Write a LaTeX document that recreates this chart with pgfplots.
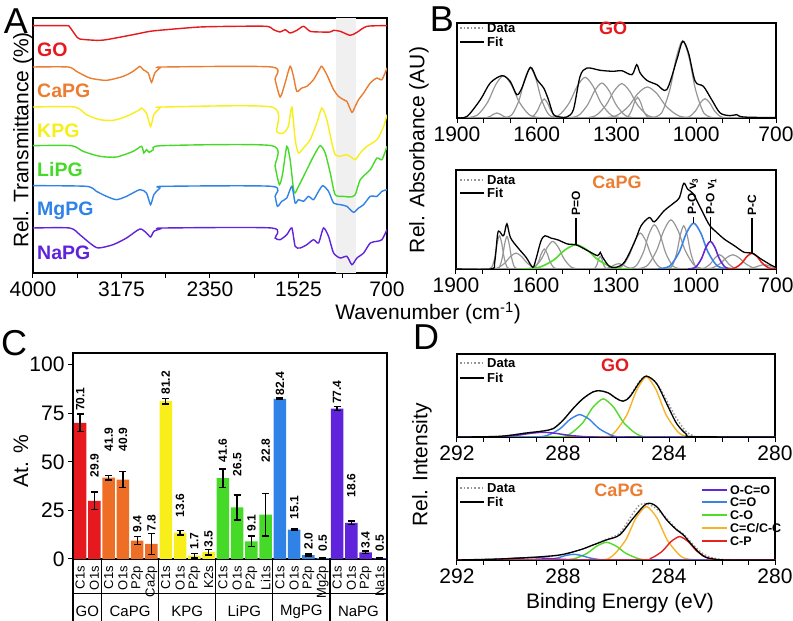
\documentclass[border=0pt]{standalone}
\usepackage{pgfplots}
\pgfplotsset{compat=1.18}
\usepackage{fontspec}
\setmainfont{Liberation Sans}
\definecolor{cGO}{HTML}{E6191E}
\definecolor{cCa}{HTML}{EE6E26}
\definecolor{cCaT}{HTML}{EB7D32}
\definecolor{cK}{HTML}{F7EE1A}
\definecolor{cLi}{HTML}{46DA28}
\definecolor{cMg}{HTML}{2F82E6}
\definecolor{cNa}{HTML}{5F23DC}
\definecolor{band}{HTML}{F0F0F0}
\definecolor{comp}{HTML}{969696}
\definecolor{dP}{HTML}{6428D2}
\definecolor{dB}{HTML}{3C82E6}
\definecolor{dG}{HTML}{50DC28}
\definecolor{dO}{HTML}{F5B428}
\definecolor{dR}{HTML}{E6231E}
\pgfplotsset{
 myax/.style={scale only axis, anchor=south west, axis line style={line width=1.3pt},
   tick style={black, line width=1pt}, tick align=outside, major tick length=5pt,
   tick label style={font=\fontsize{21}{21}\selectfont},
   /pgf/number format/assume math mode=true, ytick=\empty, xtick pos=left},
 ln/.style={line width=1.4pt, smooth, tension=0.4},
 cp/.style={comp, line width=1.2pt, smooth, tension=0.5},
 fit/.style={black, line width=1.3pt, smooth, tension=0.5},
 dat/.style={comp, line width=1.5pt, dotted, smooth, tension=0.5},
 bb/.style={ybar, bar width=12.5pt, bar shift=0pt, draw=none, fill=#1,
    error bars/y dir=both, error bars/y explicit,
    error bars/error bar style={line width=1.3pt, black},
    error bars/error mark options={rotate=90, line width=1.3pt, black, mark size=3.5pt}},
}
\newcommand{\fs}[1]{\fontsize{#1}{#1}\selectfont}
\tikzset{vl/.style={rotate=90, anchor=west, inner sep=0.5pt, font=\bfseries\fs{12}},
  gl/.style={font=\fs{15}}}
\begin{document}
\begin{tikzpicture}
\useasboundingbox (0pt,0pt) rectangle (793pt,621pt);
% ---------------- Panel A
\begin{axis}[myax, at={(33pt,348pt)}, width=354pt, height=255pt,
  xmin=700, xmax=4000, x dir=reverse, ymin=0, ymax=765,
  xtick={700,1112.5,1525,1937.5,2350,2762.5,3175,3587.5,4000},
  xticklabels={700,,1525,,2350,,3175,,4000}]
\fill[band] (axis cs:1173,0) rectangle (axis cs:987,765);
\addplot[ln, cGO] coordinates {(4000,742) (3984,742) (3690,742) (3658,738) (3600,712) (3564,702) (3409,698) (3315,700) (3066,715) (2910,725) (2755,730) (2443,738) (2132,740) (1821,740) (1759,730) (1696,723) (1650,730) (1603,720) (1541,728) (1478,740) (1416,725) (1323,723) (1229,723) (1198,728) (1136,725) (1043,713) (980,722) (887,740) (700,742)};
\addplot[ln, cCaT] coordinates {(4000,618) (3673,618) (3595,605) (3471,585) (3315,578) (3159,590) (3066,605) (3004,620) (2973,610) (2926,600) (2895,572) (2864,600) (2817,615) (2786,618) (1774,618) (1743,580) (1696,528) (1650,570) (1603,620) (1572,590) (1541,545) (1494,555) (1447,560) (1385,580) (1323,615) (1307,620) (1261,595) (1198,550) (1152,530) (1105,520) (1074,515) (1027,482) (996,500) (965,520) (918,540) (856,570) (794,585) (747,580) (700,615)};
\addplot[ln, cK] coordinates {(4000,498) (3611,498) (3502,475) (3377,460) (3253,458) (3128,470) (3004,490) (2988,495) (2942,480) (2904,440) (2873,475) (2817,495) (2786,498) (1774,498) (1727,425) (1665,420) (1619,440) (1587,498) (1556,400) (1525,360) (1478,375) (1416,400) (1354,450) (1307,495) (1261,460) (1214,390) (1183,355) (1136,350) (1089,355) (1043,350) (996,340) (949,360) (887,380) (794,400) (731,440) (700,475)};
\addplot[ln, cLi] coordinates {(4000,382) (3642,382) (3533,365) (3377,350) (3222,348) (3066,365) (2988,380) (2967,360) (2942,370) (2917,362) (2879,370) (2801,382) (1774,382) (1743,320) (1703,265) (1672,300) (1634,380) (1603,340) (1566,242) (1525,260) (1447,310) (1385,350) (1323,382) (1276,360) (1229,300) (1183,235) (1105,230) (1043,228) (996,235) (949,280) (856,310) (794,345) (747,340) (700,380)};
\addplot[ln, cMg] coordinates {(4000,262) (3502,260) (3409,245) (3315,230) (3222,220) (3128,230) (3004,250) (2942,240) (2904,205) (2873,235) (2817,255) (2786,260) (1774,260) (1743,230) (1721,200) (1681,215) (1634,225) (1587,260) (1556,210) (1525,220) (1478,215) (1432,230) (1385,220) (1338,245) (1298,262) (1245,245) (1198,210) (1136,205) (1074,200) (1012,182) (965,195) (918,205) (856,230) (794,230) (747,245) (700,250)};
\addplot[ln, cNa] coordinates {(4000,135) (3658,135) (3564,115) (3471,90) (3393,75) (3253,85) (3128,105) (3004,132) (2942,120) (2904,108) (2873,125) (2817,132) (2786,135) (1774,135) (1743,105) (1696,100) (1634,115) (1587,135) (1556,80) (1510,75) (1447,85) (1385,100) (1338,90) (1292,135) (1245,110) (1198,60) (1136,45) (1074,50) (1027,25) (980,45) (918,60) (856,90) (794,95) (747,100) (700,130)};
\end{axis}
% ---------------- Panel B top (GO)
\begin{axis}[myax, at={(457pt,503pt)}, width=319pt, height=95pt,
  xmin=700, xmax=1900, x dir=reverse, ymin=0, ymax=285,
  xtick={700,800,...,1900}, xticklabels={700,,,1000,,,1300,,,1600,,,1900}]
\addplot[cp] coordinates {(1900,0) (700,0)};
\addplot[cp] coordinates {(1810,0) (1790,1.0) (1774,5.5) (1762,11.7) (1750,15) (1738,11.7) (1726,5.5) (1710,1.0) (1690,0)};
\addplot[cp] coordinates {(1875,0) (1825,7.9) (1785,47) (1755,99) (1725,127) (1695,99) (1665,47) (1625,7.9) (1575,0)};
\addplot[cp] coordinates {(1729,0) (1694,9.4) (1666,55) (1645,117) (1624,150) (1603,117) (1582,55) (1554,9.4) (1519,0)};
\addplot[cp] coordinates {(1638,0) (1616,3.6) (1598,21) (1585,44) (1572,57) (1559,44) (1546,21) (1528,3.6) (1506,0)};
\addplot[cp] coordinates {(1568,0) (1518,7.6) (1478,45) (1448,95) (1418,122) (1388,95) (1358,45) (1318,7.6) (1268,0)};
\addplot[cp] coordinates {(1490,0) (1445,6.6) (1409,39) (1382,82) (1355,105) (1328,82) (1301,39) (1265,6.6) (1220,0)};
\addplot[cp] coordinates {(1430,0) (1380,6.4) (1340,38) (1310,80) (1280,103) (1250,80) (1220,38) (1180,6.4) (1130,0)};
\addplot[cp] coordinates {(1275,0) (1257,3.9) (1243,23) (1232,48) (1221,62) (1210,48) (1199,23) (1185,3.9) (1167,0)};
\addplot[cp] coordinates {(1364,0) (1304,5.8) (1256,34) (1220,73) (1184,93) (1148,73) (1112,34) (1064,5.8) (1004,0)};
\addplot[cp] coordinates {(1171,0) (1131,14.5) (1099,86) (1075,181) (1051,232) (1027,181) (1003,86) (971,14.5) (931,0)};
\addplot[cp] coordinates {(1057,0) (1027,3.6) (1003,21) (985,45) (967,58) (949,45) (931,21) (907,3.6) (877,0)};
\addplot[fit] coordinates {(1900,1) (1862,5) (1812,55) (1775,105) (1731,127) (1700,110) (1675,70) (1656,90) (1624,152) (1599,115) (1574,90) (1556,55) (1537,10) (1512,3) (1487,3) (1462,25) (1437,125) (1411,150) (1361,143) (1311,140) (1280,142) (1242,130) (1224,160) (1211,135) (1186,113) (1148,100) (1111,85) (1073,175) (1051,230) (1029,195) (1004,110) (973,95) (942,55) (910,15) (873,7) (848,10) (823,3) (700,1)};
\end{axis}
% ---------------- Panel B bottom (CaPG)
\begin{axis}[myax, at={(456pt,352pt)}, width=320pt, height=99pt,
  xmin=700, xmax=1900, x dir=reverse, ymin=0, ymax=298,
  xtick={700,800,...,1900}, xticklabels={700,,,1000,,,1300,,,1600,,,1900}]
\addplot[cp] coordinates {(1900,0) (700,0)};
\addplot[cp] coordinates {(1779,0) (1765,6.3) (1753.8,37) (1745.4,78) (1737,100) (1728.6,78) (1720.2,37) (1709,6.3) (1695,0)};
\addplot[cp] coordinates {(1751,0) (1737,6.1) (1725.8,36) (1717.4,76) (1709,98) (1700.6,76) (1692.2,36) (1681,6.1) (1667,0)};
\addplot[cp] coordinates {(1780,0) (1745,3) (1717,17.8) (1696,37.4) (1675,48) (1654,37.4) (1633,17.8) (1605,3) (1570,0)};
\addplot[cp] coordinates {(1623,0) (1605,3.8) (1590.6,22) (1579.8,47) (1569,60) (1558.2,47) (1547.4,22) (1533,3.8) (1515,0)};
\addplot[cp] coordinates {(1642,0) (1607,5.2) (1579,31) (1558,65) (1537,83) (1516,65) (1495,31) (1467,5.2) (1432,0)};
\addplot[cp] coordinates {(1389,0) (1379,2.4) (1371,14) (1365,30) (1359,38) (1353,30) (1347,14) (1339,2.4) (1329,0)};
\addplot[cp] coordinates {(1365,0) (1340,1) (1320,5.9) (1305,12.5) (1290,16) (1275,12.5) (1260,5.9) (1240,1) (1215,0)};
\addplot[cp] coordinates {(1314,0) (1279,6.8) (1251,40) (1230,84) (1209,108) (1188,84) (1167,40) (1139,6.8) (1104,0)};
\addplot[cp] coordinates {(1261,0) (1226,8.3) (1198,49) (1177,104) (1156,133) (1135,104) (1114,49) (1086,8.3) (1051,0)};
\addplot[cp] coordinates {(1229,0) (1184,9.3) (1148,55) (1121,115) (1094,148) (1067,115) (1040,55) (1004,9.3) (959,0)};
\addplot[cp] coordinates {(1112,0) (1090,8.1) (1072.4,48) (1059.2,101) (1046,130) (1032.8,101) (1019.6,48) (1002,8.1) (980,0)};
\addplot[cp] coordinates {(996,0) (968,2.7) (945.6,16) (928.8,33.5) (912,43) (895.2,33.5) (878.4,16) (856,2.7) (828,0)};
\addplot[cp] coordinates {(982,0) (942,2.7) (910,16) (886,33.5) (862,43) (838,33.5) (814,16) (782,2.7) (742,0)};
\addplot[cp] coordinates {(834,0) (804,0.8) (780,4.8) (762,10) (744,13) (726,10) (708,4.8) (700,3)};
\addplot[cp, dG, line width=1.6pt] coordinates {(1660,0) (1590,4.6) (1534,27) (1492,57) (1450,73) (1408,57) (1366,27) (1310,4.6) (1240,0)};
\addplot[cp, dB, line width=1.6pt] coordinates {(1144,0) (1099,8.6) (1063,51) (1036,108) (1009,138) (982,108) (955,51) (919,8.6) (874,0)};
\addplot[cp, dP, line width=1.6pt] coordinates {(1030,0) (1002,5.2) (979.6,31) (962.8,65) (946,83) (929.2,65) (912.4,31) (890,5.2) (862,0)};
\addplot[cp, dR, line width=1.6pt] coordinates {(886,0) (854,3) (828.4,17.8) (809.2,37.4) (790,48) (770.8,37.4) (751.6,17.8) (726,3) (700,0.2)};
\addplot[fit] coordinates {(1900,0) (1769,0) (1755,20) (1744,105) (1737,113) (1725,100) (1719,105) (1709,136) (1696,95) (1669,65) (1637,35) (1612,5) (1600,30) (1581,85) (1566,100) (1544,93) (1519,88) (1481,75) (1450,73) (1406,55) (1369,40) (1359,50) (1350,35) (1325,8) (1300,5) (1269,20) (1231,80) (1206,130) (1175,155) (1156,142) (1120,175) (1081,200) (1062,215) (1046,258) (1031,240) (1012,228) (990,195) (962,150) (946,128) (925,112) (894,90) (856,70) (819,50) (790,48) (756,30) (719,12) (700,5)};
\draw[line width=1.2pt] (axis cs:1450,73) -- (axis cs:1450,155);
\draw[line width=1.2pt] (axis cs:1009,138) -- (axis cs:1009,158);
\draw[line width=1.2pt] (axis cs:946,83) -- (axis cs:946,158);
\draw[line width=1.2pt] (axis cs:790,48) -- (axis cs:790,155);
\node[rotate=90, anchor=west, inner sep=1pt, font=\bfseries\fs{12}] at (axis cs:1450,158) {P=O};
\node[rotate=90, anchor=west, inner sep=1pt, font=\bfseries\fs{12}] at (axis cs:1012,160) {P-O v\textsubscript{3}};
\node[rotate=90, anchor=west, inner sep=1pt, font=\bfseries\fs{12}] at (axis cs:943,160) {P-O v\textsubscript{1}};
\node[rotate=90, anchor=west, inner sep=1pt, font=\bfseries\fs{12}] at (axis cs:790,158) {P-C};
\end{axis}
% ---------------- Panel C
\begin{axis}[myax, at={(73pt,62pt)}, width=314pt, height=206pt,
  xmin=-0.5, xmax=21.5, ymin=0, ymax=106, ytick={0,25,50,75,100}, ytick pos=left,
  xtick={0,...,21}, major x tick style={draw=none},
  xticklabels={C1s,O1s,C1s,O1s,P2p,Ca2p,C1s,O1s,P2p,K2s,C1s,O1s,P2p,Li1s,C1s,O1s,P2p,Mg2p,C1s,O1s,P2p,Na1s},
  x tick label style={rotate=90, anchor=east, font=\fs{13}, inner sep=2pt},
  clip=false]
\addplot[bb=cGO] coordinates {(0,70.1) +- (0,4.5) (1,29.9) +- (0,4.5)};
\addplot[bb=cCa] coordinates {(2,41.9) +- (0,1.2) (3,40.9) +- (0,4) (4,9.4) +- (0,2) (5,7.8) +- (0,5.5)};
\addplot[bb=cK] coordinates {(6,81.2) +- (0,1.5) (7,13.6) +- (0,1.2) (8,1.7) +- (0,1.2) (9,3.5) +- (0,1.5)};
\addplot[bb=cLi] coordinates {(10,41.6) +- (0,4.7) (11,26.5) +- (0,6.5) (12,9.1) +- (0,2.7) (13,22.8) +- (0,11)};
\addplot[bb=cMg] coordinates {(14,82.4) +- (0,0.4) (15,15.1) +- (0,0.4) (16,2.0) +- (0,0.5) (17,0.5) +- (0,0.2)};
\addplot[bb=cNa] coordinates {(18,77.4) +- (0,1) (19,18.6) +- (0,1) (20,3.4) +- (0,0.7) (21,0.5) +- (0,0.2)};
\node[vl] at (axis cs:0,75.8) {70.1};
\node[vl] at (axis cs:1,41.8) {29.9};
\node[vl] at (axis cs:2,55.2) {41.9};
\node[vl] at (axis cs:3,55.2) {40.9};
\node[vl] at (axis cs:4,13.4) {9.4};
\node[vl] at (axis cs:5,13.9) {7.8};
\node[vl] at (axis cs:6,84.2) {81.2};
\node[vl] at (axis cs:7,21.1) {13.6};
\node[vl] at (axis cs:8,4.6) {1.7};
\node[vl] at (axis cs:9,5.8) {3.5};
\node[vl] at (axis cs:10,49.5) {41.6};
\node[vl] at (axis cs:11,42.3) {26.5};
\node[vl] at (axis cs:12,13.9) {9.1};
\node[vl] at (axis cs:13,49.5) {22.8};
\node[vl] at (axis cs:14,84.0) {82.4};
\node[vl] at (axis cs:15,20.1) {15.1};
\node[vl] at (axis cs:16,4.6) {2.0};
\node[vl] at (axis cs:17,3.6) {0.5};
\node[vl] at (axis cs:18,79.4) {77.4};
\node[vl] at (axis cs:19,31.4) {18.6};
\node[vl] at (axis cs:20,5.2) {3.4};
\node[vl] at (axis cs:21,3.6) {0.5};
\draw[line width=1.3pt] (axis cs:-0.5,0) -- (axis cs:-0.5,-32);
\draw[line width=1.3pt] (axis cs:1.5,0) -- (axis cs:1.5,-32);
\draw[line width=1.3pt] (axis cs:5.5,0) -- (axis cs:5.5,-32);
\draw[line width=1.3pt] (axis cs:9.5,0) -- (axis cs:9.5,-32);
\draw[line width=1.3pt] (axis cs:13.5,0) -- (axis cs:13.5,-32);
\draw[line width=1.3pt] (axis cs:17.5,0) -- (axis cs:17.5,-32);
\draw[line width=1.3pt] (axis cs:21.5,0) -- (axis cs:21.5,-32);
\draw[line width=0.8pt] (axis cs:-0.5,-17.5) -- (axis cs:21.5,-17.5);
\node[gl] at (axis cs:0.5,-27) {GO};
\node[gl] at (axis cs:3.5,-27) {CaPG};
\node[gl] at (axis cs:7.5,-27) {KPG};
\node[gl] at (axis cs:11.5,-27) {LiPG};
\node[gl] at (axis cs:15.5,-27) {MgPG};
\node[gl] at (axis cs:19.5,-27) {NaPG};
\end{axis}
% ---------------- Panel D top (GO)
\begin{axis}[myax, at={(457pt,184pt)}, width=318pt, height=83pt,
  xmin=280, xmax=292, x dir=reverse, ymin=0, ymax=248,
  xtick={280,...,292}, xticklabels={280,,,,284,,,,288,,,,292}]
\addplot[dat] coordinates {(292,0) (290.39,2) (289.38,12) (288.75,18) (288.37,25) (288.0,50) (287.62,85) (287.24,115) (286.86,135) (286.61,138) (286.30,132) (285.98,115) (285.73,107) (285.48,122) (285.10,168) (284.85,180) (284.6,172) (284.3,140) (284.09,110) (283.71,55) (283.34,15) (283.08,4) (282.8,1) (280,0)};
\addplot[ln, dO] coordinates {(292,0) (286.71,0) (286.09,11.3) (285.59,66.4) (285.22,140) (284.85,180) (284.48,140) (284.11,66.4) (283.61,11.3) (282.99,0) (280,0)};
\addplot[ln, dG] coordinates {(292,0) (288.43,0) (287.78,7.1) (287.26,42) (286.87,89) (286.48,114) (286.09,89) (285.70,42) (285.18,7.1) (284.53,0) (280,0)};
\addplot[ln, dB] coordinates {(292,0) (289.23,0) (288.61,4.2) (288.11,24.7) (287.74,52.3) (287.37,67) (287.00,52.3) (286.63,24.7) (286.13,4.2) (285.51,0) (280,0)};
\addplot[ln, dP] coordinates {(292,0) (291.15,0) (290.35,0.98) (289.71,5.2) (289.23,10.9) (288.75,14) (288.27,10.9) (287.79,5.2) (287.15,0.98) (286.35,0) (280,0)};
\addplot[fit] coordinates {(292,0) (290.39,2) (289.38,12) (288.75,18) (288.37,25) (288.0,50) (287.62,85) (287.24,115) (286.86,135) (286.61,138) (286.30,132) (285.98,115) (285.73,107) (285.48,120) (285.10,165) (284.85,182) (284.47,160) (284.09,100) (283.71,40) (283.34,8) (283.08,1) (280,0)};
\end{axis}
% ---------------- Panel D bottom (CaPG)
\begin{axis}[myax, at={(457pt,61pt)}, width=318pt, height=82pt,
  xmin=280, xmax=292, x dir=reverse, ymin=0, ymax=245,
  xtick={280,...,292}, xticklabels={280,,,,284,,,,288,,,,292}]
\addplot[dat] coordinates {(292,0) (290.4,3) (289.13,8) (288.12,15) (287.37,30) (286.86,45) (286.36,62) (285.86,80) (285.35,140) (285.1,165) (284.85,168) (284.5,155) (284.1,125) (283.71,92) (283.46,78) (283.08,45) (282.71,18) (282.33,6) (281.8,1) (280,0)};
\addplot[ln, dO] coordinates {(292,0) (286.83,0) (286.17,10) (285.64,59) (285.25,125) (284.85,160) (284.45,125) (284.06,59) (283.53,10) (282.87,0) (280,0)};
\addplot[ln, dG] coordinates {(292,0) (288.22,0) (287.6,3.3) (287.10,19.6) (286.73,41.3) (286.36,53) (285.99,41.3) (285.62,19.6) (285.12,3.3) (284.5,0) (280,0)};
\addplot[ln, dB] coordinates {(292,0) (289.1,0) (288.6,1.1) (288.2,6.3) (287.9,13.3) (287.6,17) (287.3,13.3) (287.0,6.3) (286.6,1.1) (286.1,0) (280,0)};
\addplot[ln, dP] coordinates {(292,0) (291.95,0) (291.05,0.44) (290.33,2.6) (289.79,5.5) (289.25,7) (288.71,5.5) (288.17,2.6) (287.45,0.44) (286.55,0) (280,0)};
\addplot[ln, dR] coordinates {(292,0) (285.25,0) (284.7,4.4) (284.26,25.8) (283.93,54.6) (283.6,70) (283.27,54.6) (282.94,25.8) (282.5,4.4) (281.95,0) (280,0)};
\addplot[fit] coordinates {(292,0) (290.4,3) (289.13,8) (288.12,15) (287.37,30) (286.86,45) (286.36,60) (285.86,75) (285.35,125) (284.85,168) (284.47,160) (284.09,120) (283.71,90) (283.46,75) (283.08,40) (282.71,12) (282.33,3) (281.8,0) (280,0)};
\end{axis}
% ---------------- texts and legends
\begin{scope}[every node/.style={inner sep=0pt}]
\node[font=\fs{36}] at (16pt,600pt) {A};
\node[font=\fs{36}] at (442pt,602pt) {B};
\node[font=\fs{36}] at (14pt,278pt) {C};
\node[font=\fs{36}] at (426pt,284pt) {D};
\node[rotate=90, font=\fs{21}] at (23pt,481pt) {Rel. Transmittance (\%)};
\node[rotate=90, font=\fs{21}] at (419pt,471pt) {Rel. Absorbance (AU)};
\node[font=\fs{21}] at (428pt,308pt) {Wavenumber (cm\textsuperscript{-1})};
\node[rotate=90, font=\fs{21}] at (21pt,160pt) {At. \%};
\node[rotate=90, font=\fs{21}] at (422pt,156pt) {Rel. Intensity};
\node[font=\fs{21}] at (620pt,18pt) {Binding Energy (eV)};
\node[anchor=west, font=\bfseries\fs{19.5}, text=cGO] at (37pt,571pt) {GO};
\node[anchor=west, font=\bfseries\fs{19.5}, text=cCaT] at (37pt,530pt) {CaPG};
\node[anchor=west, font=\bfseries\fs{19.5}, text=cK] at (37pt,490pt) {KPG};
\node[anchor=west, font=\bfseries\fs{19.5}, text=cLi] at (37pt,451pt) {LiPG};
\node[anchor=west, font=\bfseries\fs{19.5}, text=cMg] at (37pt,410pt) {MgPG};
\node[anchor=west, font=\bfseries\fs{19.5}, text=cNa] at (37pt,368pt) {NaPG};
\node[font=\bfseries\fs{18}, text=cGO] at (613pt,593pt) {GO};
\node[font=\bfseries\fs{18}, text=cCaT] at (617pt,439pt) {CaPG};
\node[font=\bfseries\fs{18}, text=cGO] at (615pt,256pt) {GO};
\node[font=\bfseries\fs{18}, text=cCaT] at (619pt,131pt) {CaPG};
\foreach \yd/\yf in {593/579, 441/428, 258/243, 133/119}{
  \draw[comp, dotted, line width=1.6pt] (460pt,\yd pt) -- (484pt,\yd pt);
  \draw[black, line width=1.6pt] (460pt,\yf pt) -- (484pt,\yf pt);
  \node[anchor=west, font=\bfseries\fs{13}] at (487pt,\yd pt) {Data};
  \node[anchor=west, font=\bfseries\fs{13}] at (487pt,\yf pt) {Fit};
}
\foreach \yy/\cc/\tt in {131/dP/{O-C=O}, 119/dB/{C=O}, 106/dG/{C-O}, 93/dO/{C=C/C-C}, 80/dR/{C-P}}{
  \draw[\cc, line width=1.8pt] (702pt,\yy pt) -- (727pt,\yy pt);
  \node[anchor=west, font=\bfseries\fs{12.5}] at (730pt,\yy pt) {\tt};
}
\end{scope}
\end{tikzpicture}
\end{document}
